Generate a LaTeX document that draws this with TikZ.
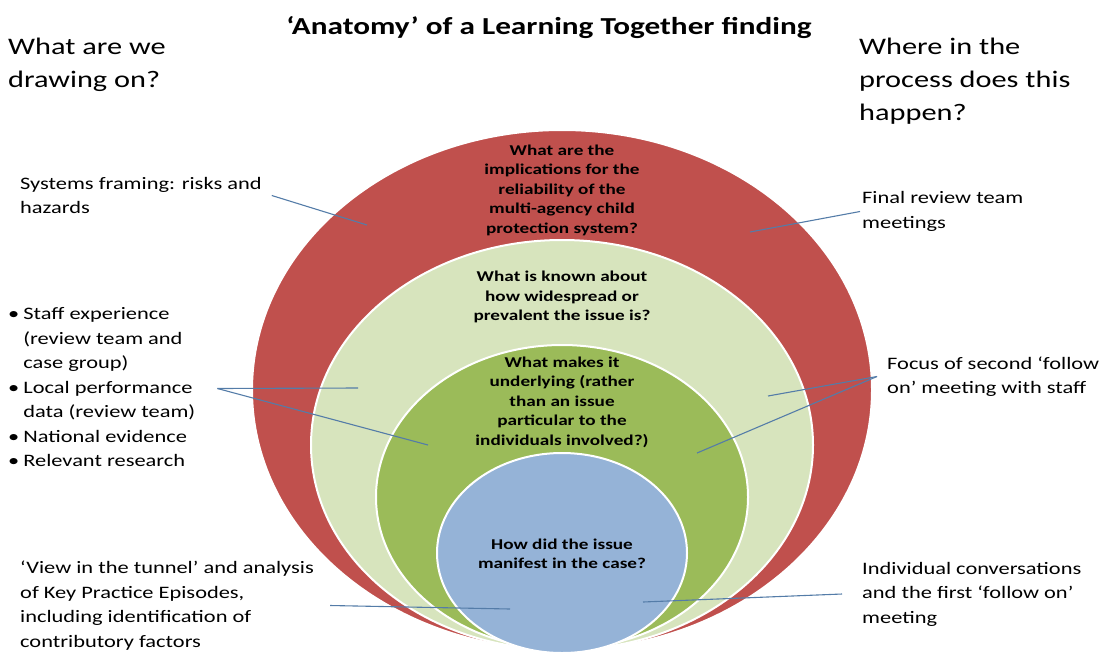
\documentclass[tikz,border=0pt]{standalone}
\usepackage{fontspec}
\setmainfont{Carlito}[FakeStretch=1.28]
\usetikzlibrary{shapes.geometric,positioning}
\definecolor{ringred}{RGB}{192,80,77}
\definecolor{ringpale}{RGB}{215,228,189}
\definecolor{ringgreen}{RGB}{155,187,89}
\definecolor{ringblue}{RGB}{149,179,215}
\definecolor{leader}{RGB}{84,124,168}

\begin{document}
\begin{tikzpicture}[x=1pt,y=-1pt,
      ring/.style={ellipse, draw=white, line width=2pt, inner sep=0pt},
      quest/.style={font=\bfseries\fontsize{15}{19.5}\selectfont, align=center, inner sep=0pt},
      head/.style={font=\fontsize{23.7}{33}\selectfont, align=left, inner sep=2pt},
      lbl/.style={font=\fontsize{17.5}{24.5}\selectfont, align=left, inner sep=2pt},
      arr/.style={leader, line width=1.1pt}
    ]
    \useasboundingbox (0,0) rectangle (1099,653);
    % nested rings
    \node[ring, fill=ringred, minimum width=620pt, minimum height=520pt] (sys) at (562,390) {};
    \node[ring, fill=ringpale, minimum width=502pt, minimum height=410pt] (prev) at (562,445) {};
    \node[ring, fill=ringgreen, minimum width=372pt, minimum height=304pt] (under) at (562,497) {};
    \node[ring, fill=ringblue, minimum width=250pt, minimum height=200pt] (case) at (562,553) {};
    % questions
    \node[quest] (qsys) at (562,190) {What are the\\implications for the\\reliability of the\\multi-agency child\\protection system?};
    \node[quest] (qprev) at (562,297) {What is known about\\how widespread or\\prevalent the issue is?};
    \node[quest] (qunder) at (562,402) {What makes it\\underlying (rather\\than an issue\\particular to the\\individuals involved?)};
    \node[quest] (qcase) at (562,554) {How did the issue\\manifest in the case?};
    % headings
    \node[font=\bfseries\fontsize{24.4}{28}\selectfont] (title) at (549,28) {‘Anatomy’ of a Learning Together finding};
    \node[head, anchor=west] (hleft) at (6,64.5) {What are we\\drawing on?};
    \node[head, anchor=west] (hright) at (857,81) {Where in the\\process does this\\happen?};
    % left labels
    \node[lbl, anchor=west] (frame) at (18,195.5) {Systems framing: risks and\\hazards};
    \node[lbl, anchor=west] (evid) at (6,388.5) {%
      \begin{tabular}{@{}l@{\hspace{4pt}}l@{}}
        \textbullet & Staff experience\\
                    & (review team and\\
                    & case group)\\
        \textbullet & Local performance\\
                    & data (review team)\\
        \textbullet & National evidence\\
        \textbullet & Relevant research
      \end{tabular}};
    \node[lbl, anchor=west] (tunnel) at (18,605.5) {‘View in the tunnel’ and analysis\\of Key Practice Episodes,\\including identification of\\contributory factors};
    % right labels
    \node[lbl, anchor=west] (final) at (860,211.5) {Final review team\\meetings};
    \node[lbl, anchor=west] (focus) at (885,376.5) {Focus of second ‘follow\\on’ meeting with staff};
    \node[lbl, anchor=west] (indiv) at (860,594) {Individual conversations\\and the first ‘follow on’\\meeting};
    % leader ends inside the rings
    \coordinate (psys) at (367,225);
    \coordinate (psysr) at (750,232);
    \coordinate (pprev) at (358,388);
    \coordinate (punder) at (428,445);
    \coordinate (pprevr) at (768,396);
    \coordinate (punderr) at (697,453);
    \coordinate (pcase) at (510,609);
    \coordinate (pcaser) at (643,602);
    % leaders
    \draw[arr] ([xshift=8pt]frame.east) -- (psys);
    \draw[arr] (final.west) -- (psysr);
    \draw[arr] ([xshift=20pt]evid.east) -- (pprev);
    \draw[arr] ([xshift=20pt]evid.east) -- (punder);
    \draw[arr] ([xshift=-8pt]focus.west) -- (pprevr);
    \draw[arr] ([xshift=-8pt]focus.west) -- (punderr);
    \draw[arr] ([xshift=14pt]tunnel.east) -- (pcase);
    \draw[arr] ([xshift=-18pt]indiv.west) -- (pcaser);
  \end{tikzpicture}
\end{document}
